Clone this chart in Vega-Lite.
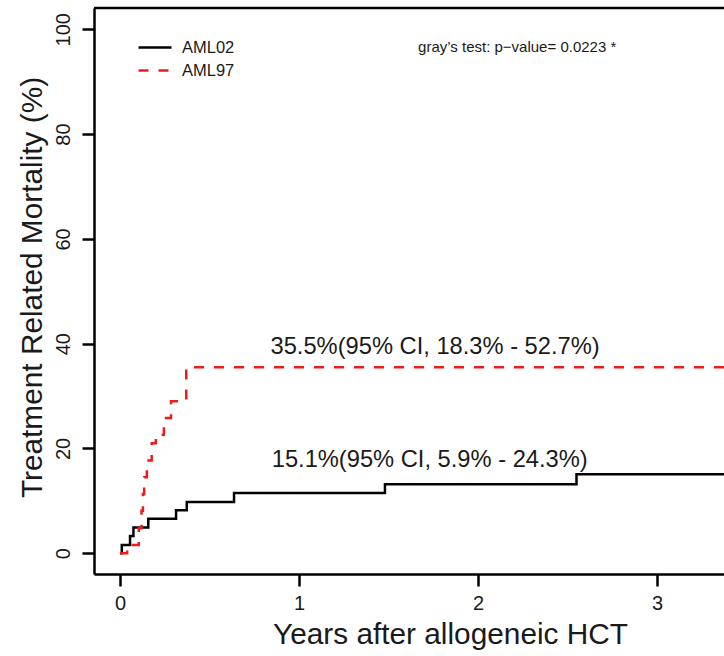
{
  "$schema": "https://vega.github.io/schema/vega-lite/v6.json",
  "width": 630,
  "height": 566,
  "autosize": {"type": "none"},
  "padding": {"left": 94, "top": 8, "right": 0, "bottom": 82},
  "background": "white",
  "config": {
    "view": {"stroke": null},
    "font": "Liberation Sans",
    "axis": {
      "grid": false,
      "domainColor": "black",
      "domainWidth": 2.5,
      "tickColor": "black",
      "tickWidth": 2.5,
      "tickSize": 12,
      "labelFont": "Liberation Sans",
      "labelFontSize": 20,
      "labelColor": "#1a1a1a",
      "titleFont": "Liberation Sans",
      "titleFontSize": 29.8,
      "titleFontWeight": "normal",
      "titleColor": "#1a1a1a"
    }
  },
  "datasets": {
    "cif": [
      {"group": "AML02", "t": 0, "pct": 0},
      {"group": "AML02", "t": 0.01, "pct": 1.6},
      {"group": "AML02", "t": 0.056, "pct": 3.3},
      {"group": "AML02", "t": 0.075, "pct": 4.9},
      {"group": "AML02", "t": 0.158, "pct": 6.6},
      {"group": "AML02", "t": 0.313, "pct": 8.2},
      {"group": "AML02", "t": 0.373, "pct": 9.8},
      {"group": "AML02", "t": 0.637, "pct": 11.5},
      {"group": "AML02", "t": 1.48, "pct": 13.2},
      {"group": "AML02", "t": 2.55, "pct": 15.1},
      {"group": "AML02", "t": 3.6, "pct": 15.1},
      {"group": "AML97", "t": 0, "pct": 0},
      {"group": "AML97", "t": 0.04, "pct": 1.6},
      {"group": "AML97", "t": 0.105, "pct": 4.8},
      {"group": "AML97", "t": 0.12, "pct": 8.1},
      {"group": "AML97", "t": 0.128, "pct": 11.3},
      {"group": "AML97", "t": 0.135, "pct": 14.5},
      {"group": "AML97", "t": 0.15, "pct": 17.7},
      {"group": "AML97", "t": 0.177, "pct": 21.0},
      {"group": "AML97", "t": 0.2, "pct": 22.6},
      {"group": "AML97", "t": 0.245, "pct": 25.8},
      {"group": "AML97", "t": 0.285, "pct": 29.0},
      {"group": "AML97", "t": 0.37, "pct": 35.5},
      {"group": "AML97", "t": 3.6, "pct": 35.5}
    ],
    "notes": [
      {"t": 1.76, "pct": 39.4, "label": "35.5%(95% CI, 18.3% - 52.7%)"},
      {"t": 1.73, "pct": 17.8, "label": "15.1%(95% CI, 5.9% - 24.3%)"}
    ],
    "test": [
      {"t": 1.665, "pct": 96.6, "label": "gray’s test: p−value= 0.0223 *"}
    ]
  },
  "layer": [
    {
      "data": {"values": [{"top": 104.06}]},
      "mark": {"type": "rule", "color": "black", "strokeWidth": 2.5},
      "encoding": {"y": {"field": "top", "type": "quantitative", "scale": {"domain": [-3.95, 104.06]}}}
    },
    {
      "data": {"name": "cif"},
      "mark": {"type": "line", "interpolate": "step-after", "strokeWidth": 2.5, "clip": true},
      "encoding": {
        "x": {
          "field": "t",
          "type": "quantitative",
          "scale": {"domain": [-0.1453, 3.374], "nice": false, "zero": false},
          "axis": {
            "values": [0, 1, 2, 3],
            "format": "d",
            "title": "Years after allogeneic HCT",
            "labelBaseline": "alphabetic",
            "labelPadding": 23,
            "titleX": 356,
            "titleY": 69,
            "titleAlign": "center",
            "titleBaseline": "alphabetic",
            "titleAnchor": null
          }
        },
        "y": {
          "field": "pct",
          "type": "quantitative",
          "scale": {"domain": [-3.95, 104.06], "nice": false, "zero": false},
          "axis": {
            "values": [0, 20, 40, 60, 80, 100],
            "format": "d",
            "title": "Treatment Related Mortality (%)",
            "labelAngle": 270,
            "labelAlign": "center",
            "labelBaseline": "alphabetic",
            "labelPadding": 13,
            "titleAngle": 270,
            "titleX": -53,
            "titleY": 279,
            "titleAlign": "center",
            "titleBaseline": "alphabetic",
            "titleAnchor": null
          }
        },
        "color": {
          "field": "group",
          "type": "nominal",
          "scale": {"domain": ["AML02", "AML97"], "range": ["black", "#ee1b1b"]},
          "legend": {
            "orient": "none",
            "legendX": 43,
            "legendY": 28,
            "title": null,
            "padding": 0,
            "symbolType": "stroke",
            "symbolSize": 1089,
            "symbolStrokeWidth": 2.5,
            "labelFont": "Liberation Sans",
            "labelFontSize": 16.5,
            "labelColor": "#1a1a1a",
            "labelOffset": 9,
            "clipHeight": 23,
            "rowPadding": 0
          }
        },
        "strokeDash": {
          "field": "group",
          "type": "nominal",
          "scale": {"domain": ["AML02", "AML97"], "range": [[1, 0], [10, 10]]},
          "legend": {
            "orient": "none",
            "legendX": 43,
            "legendY": 28,
            "title": null,
            "padding": 0,
            "symbolType": "stroke",
            "symbolSize": 1089,
            "symbolStrokeWidth": 2.5,
            "labelFont": "Liberation Sans",
            "labelFontSize": 16.5,
            "labelColor": "#1a1a1a",
            "labelOffset": 9,
            "clipHeight": 23,
            "rowPadding": 0
          }
        }
      }
    },
    {
      "data": {"name": "notes"},
      "mark": {"type": "text", "font": "Liberation Sans", "fontSize": 23.7, "color": "#1a1a1a", "align": "center", "baseline": "middle"},
      "encoding": {
        "x": {"field": "t", "type": "quantitative"},
        "y": {"field": "pct", "type": "quantitative"},
        "text": {"field": "label"}
      }
    },
    {
      "data": {"name": "test"},
      "mark": {"type": "text", "font": "Liberation Sans", "fontSize": 15, "color": "#1a1a1a", "align": "left", "baseline": "middle"},
      "encoding": {
        "x": {"field": "t", "type": "quantitative"},
        "y": {"field": "pct", "type": "quantitative"},
        "text": {"field": "label"}
      }
    }
  ]
}
